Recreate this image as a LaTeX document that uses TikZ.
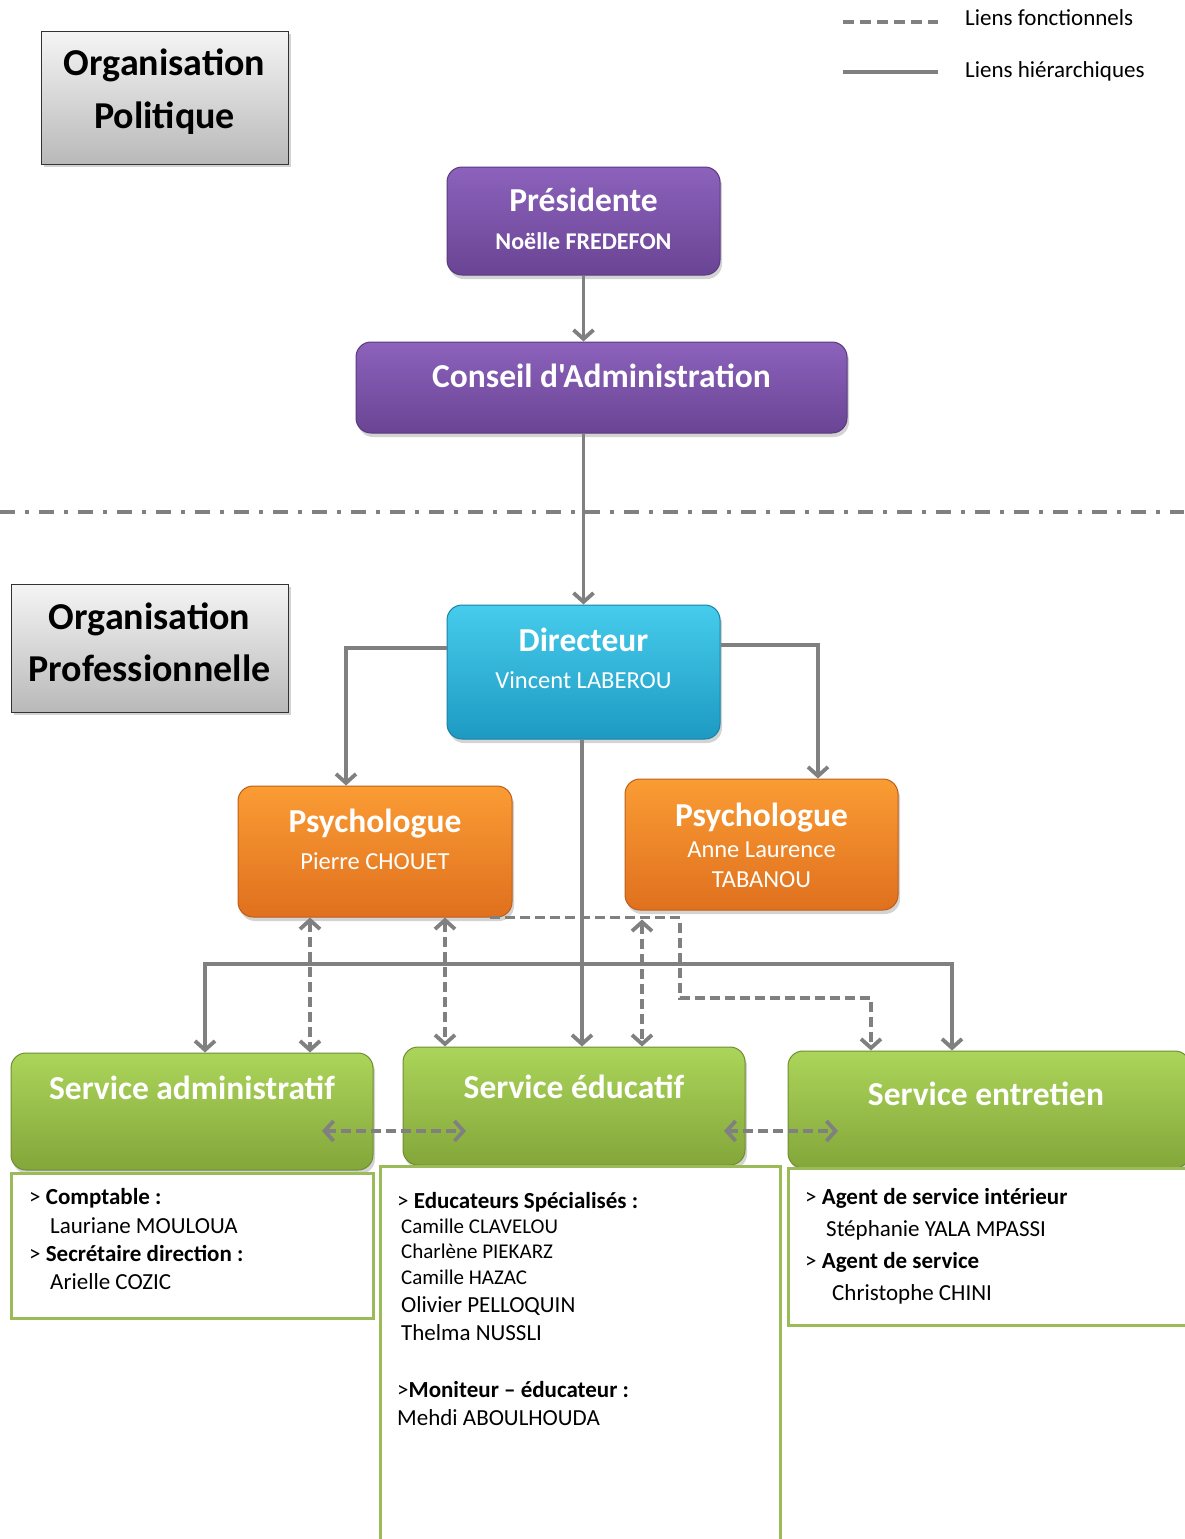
\documentclass[tikz,border=0pt]{standalone}
\usepackage{fontspec}
\setmainfont{Carlito}[Ligatures=TeXOff]
\usetikzlibrary{arrows.meta,shadows,positioning}

\definecolor{linkgray}{HTML}{808080}
\definecolor{purpletop}{HTML}{8C62BC}
\definecolor{purplebot}{HTML}{6A4494}
\definecolor{cyantop}{HTML}{46CCEC}
\definecolor{cyanbot}{HTML}{1D9AC2}
\definecolor{orangetop}{HTML}{FA9C34}
\definecolor{orangebot}{HTML}{E0701E}
\definecolor{greentop}{HTML}{ABD55A}
\definecolor{greenbot}{HTML}{84A63A}
\definecolor{greenline}{HTML}{9BBB59}

\tikzset{
  hier/.style={draw=linkgray, line width=3.8pt, -{Straight Barb[length=9pt,width=20pt]}},
  func/.style={draw=linkgray, line width=3.8pt, dash pattern=on 10pt off 5pt,
    {Straight Barb[length=9pt,width=20pt]}-{Straight Barb[length=9pt,width=20pt]}},
  funcend/.style={draw=linkgray, line width=3.8pt, dash pattern=on 10pt off 5pt,
    -{Straight Barb[length=9pt,width=20pt]}},
  tagbox/.style={draw=black!80, line width=1pt, top color=gray!8, bottom color=gray!55,
    drop shadow={opacity=0.35, shadow xshift=3pt, shadow yshift=-3pt}},
  unit/.style={rounded corners=15pt, line width=1pt,
    drop shadow={opacity=0.35, shadow xshift=2pt, shadow yshift=-4pt}},
  purplebox/.style={unit, draw=purplebot!85!black, top color=purpletop, bottom color=purplebot},
  cyanbox/.style={unit, draw=cyanbot!85!black, top color=cyantop, bottom color=cyanbot},
  orangebox/.style={unit, draw=orangebot!85!black, top color=orangetop, bottom color=orangebot},
  greenbox/.style={unit, draw=greenbot!85!black, top color=greentop, bottom color=greenbot},
  staffbox/.style={draw=greenline, line width=3pt, fill=white},
  tagtext/.style={inner sep=0pt, font=\bfseries\fontsize{38}{44}\selectfont, text height=28pt, text depth=4pt},
  ttl/.style={inner sep=0pt, text=white, font=\bfseries\fontsize{33.5}{40}\selectfont, text height=25pt, text depth=3pt},
  sub/.style={inner sep=0pt, text=white, font=\fontsize{24.5}{30}\selectfont, text height=18pt, text depth=2.5pt},
  line/.style={anchor=west, inner sep=0pt, font=\fontsize{23}{28}\selectfont, text height=17pt, text depth=2.5pt},
  smallline/.style={line, font=\fontsize{21}{26}\selectfont, text height=15.5pt, text depth=2pt},
}

\begin{document}
\begin{tikzpicture}[x=1pt, y=-1pt]
  \useasboundingbox (0,0) rectangle (1184,1539);

  % legend
  \draw[draw=linkgray, line width=3.8pt, dash pattern=on 11pt off 6pt] (843,22) -- (938,22);
  \draw[draw=linkgray, line width=3.8pt] (843,72) -- (938,72);
  \node[line] (legfunc) at (965,18) {Liens fonctionnels};
  \node[line] (leghier) at (965,70) {Liens hiérarchiques};

  % political organisation
  \node[tagbox, minimum width=247pt, minimum height=133pt] (polit) at (164.5,97.5) {};
  \node[tagtext] (politA) at (164.5,63) {Organisation};
  \node[tagtext] (politB) at (164.5,116) {Politique};

  \node[purplebox, minimum width=273pt, minimum height=108pt] (pres) at (583.5,221) {};
  \node[ttl] (presA) at (583.5,200) {Présidente};
  \node[sub, font=\bfseries\fontsize{24}{28}\selectfont] (presB) at (583.5,242) {Noëlle FREDEFON};

  \node[purplebox, minimum width=491pt, minimum height=91pt] (ca) at (601.5,387.5) {};
  \node[ttl] (caA) at (601.5,376) {Conseil d'Administration};

  \draw[hier] (pres.south) -- (pres.south |- ca.north);

  % separator
  \draw[linkgray, line width=3.5pt, dash pattern=on 15pt off 10pt on 4pt off 10pt] (0,512) -- (1184,512);

  % professional organisation
  \node[tagbox, minimum width=277pt, minimum height=128pt] (prof) at (149.5,648) {};
  \node[tagtext] (profA) at (149.5,617) {Organisation};
  \node[tagtext] (profB) at (149.5,669) {Professionnelle};

  \node[cyanbox, minimum width=273pt, minimum height=134pt] (dir) at (583.5,672) {};
  \node[ttl] (dirA) at (583.5,640) {Directeur};
  \node[sub] (dirB) at (583.5,681) {Vincent LABEROU};

  \node[orangebox, minimum width=274pt, minimum height=131pt] (psyA) at (375,851.5) {};
  \node[ttl] (psyAa) at (375,821) {Psychologue};
  \node[sub] (psyAb) at (375,862) {Pierre CHOUET};

  \node[orangebox, minimum width=273pt, minimum height=131pt] (psyB) at (761.5,844.5) {};
  \node[ttl] (psyBa) at (761.5,815) {Psychologue};
  \node[sub] (psyBb) at (761.5,850) {Anne Laurence};
  \node[sub] (psyBc) at (761.5,880) {TABANOU};

  \node[greenbox, minimum width=362pt, minimum height=117pt] (adm) at (192,1111.5) {};
  \node[ttl] (admA) at (192,1088) {Service administratif};
  \node[greenbox, minimum width=342pt, minimum height=118pt] (edu) at (574,1106) {};
  \node[ttl] (eduA) at (574,1087) {Service éducatif};
  \node[greenbox, minimum width=402pt, minimum height=117pt] (ent) at (989,1109.5) {};
  \node[ttl] (entA) at (986,1094) {Service entretien};

  % hierarchical links
  \draw[hier] (ca.south -| dir.north) -- (dir.north);
  \draw[hier] ([yshift=24pt]dir.west) -| ([xshift=-29pt]psyA.north);
  \draw[hier] ([yshift=27pt]dir.east) -| ([xshift=56.5pt]psyB.north);
  \draw[hier] ([xshift=-1.5pt]dir.south) -- ([xshift=8pt]edu.north);
  \coordinate (hbar) at (582,964);
  \draw[hier] (hbar) -| ([xshift=13pt]adm.north);
  \draw[hier] (hbar) -| ([xshift=-37pt]ent.north);

  % functional links
  \draw[func] ([xshift=-65pt]psyA.south) -- ([xshift=118pt]adm.north);
  \draw[func] ([xshift=70pt]psyA.south) -- ([xshift=-129pt]edu.north);
  \draw[func] ([xshift=-119.5pt,yshift=-9pt]psyB.south) -- ([xshift=68pt]edu.north);
  \coordinate (fknee) at (680,998);
  \draw[funcend] ([xshift=115pt]psyA.south) -| (fknee) -| ([xshift=-118pt]ent.north);
  \draw[func] ([shift={(130,19.5)}]adm.center) -- ([shift={(-108,25)}]edu.center);
  \draw[func] ([shift={(150,25)}]edu.center) -- ([shift={(-151,21.5)}]ent.center);

  % staff lists
  \node[staffbox, minimum width=362pt, minimum height=145pt] (admstaff) at (192,1245.5) {};
  \node[staffbox, minimum width=400pt, minimum height=385pt] (edustaff) at (580,1358.5) {};
  \node[staffbox, minimum width=402pt, minimum height=157pt] (entstaff) at (989,1246.5) {};

  \node[line] (compta) at (29,1197) {> \textbf{Comptable :}};
  \node[line] (comptaname) at (50,1226) {Lauriane MOULOUA};
  \node[line] (secr) at (29,1254) {> \textbf{Secrétaire direction :}};
  \node[line] (secrname) at (50,1282) {Arielle COZIC};

  \node[line] (educs) at (397,1201) {> \textbf{Educateurs Spécialisés :}};
  \node[smallline] (eduNa) at (401,1227) {Camille CLAVELOU};
  \node[smallline] (eduNb) at (401,1252) {Charlène PIEKARZ};
  \node[smallline] (eduNc) at (401,1278) {Camille HAZAC};
  \node[line] (eduNd) at (401,1305) {Olivier PELLOQUIN};
  \node[line] (eduNe) at (401,1333) {Thelma NUSSLI};
  \node[line] (monit) at (397,1390) {>\textbf{Moniteur – éducateur :}};
  \node[line] (monitname) at (397,1418) {Mehdi ABOULHOUDA};

  \node[line] (agentA) at (805,1197) {> \textbf{Agent de service intérieur}};
  \node[line] (agentAname) at (826,1229) {Stéphanie YALA MPASSI};
  \node[line] (agentB) at (805,1261) {> \textbf{Agent de service}};
  \node[line] (agentBname) at (832,1293) {Christophe CHINI};
\end{tikzpicture}
\end{document}
